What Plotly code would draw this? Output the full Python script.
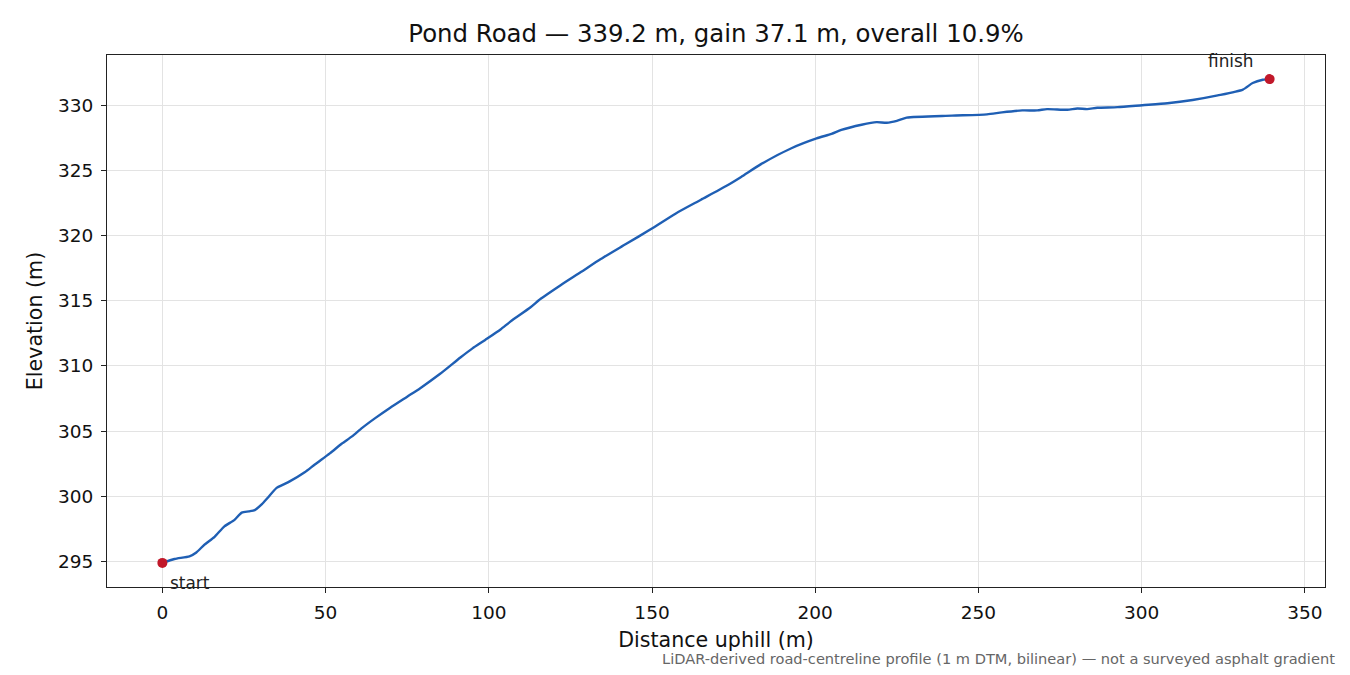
import plotly.graph_objects as go

# distance along the road (m) and elevation (m)
distance = [0, 3.7, 8.3, 10.4, 12.9, 16, 19, 22.1, 24.3, 26.5, 28.3, 30.5, 32.3, 35, 37, 39,
            43.6, 46.7, 51.3, 55, 58.1, 61.2, 65.2, 69.8, 75, 79, 85.1, 91.3, 95, 98.9,
            103.6, 106.6, 112.8, 115.9, 122, 128.2, 134.3, 142, 149.7, 157.3, 165, 172.7,
            177.3, 183.5, 192.7, 200.4, 205, 208, 214.2, 218.8, 221.9, 225, 228, 241.9,
            252.6, 257.2, 263.4, 268, 271, 277.2, 280.3, 283.3, 286.4, 292.6, 300.2,
            307.9, 315.6, 323.3, 331, 334, 337.1, 339.2]
elevation = [294.9, 295.2, 295.4, 295.7, 296.3, 296.9, 297.7, 298.2, 298.75, 298.85, 298.95,
             299.4, 299.9, 300.65, 300.9, 301.15, 301.85, 302.45, 303.3, 304.05, 304.6,
             305.25, 306.0, 306.8, 307.65, 308.3, 309.4, 310.65, 311.35, 312.0, 312.8,
             313.4, 314.5, 315.15, 316.2, 317.2, 318.2, 319.35, 320.5, 321.7, 322.75,
             323.8, 324.5, 325.5, 326.7, 327.45, 327.8, 328.1, 328.5, 328.7, 328.65, 328.8,
             329.05, 329.2, 329.3, 329.45, 329.6, 329.6, 329.7, 329.65, 329.75, 329.7,
             329.8, 329.85, 330.0, 330.15, 330.4, 330.75, 331.2, 331.7, 331.95, 332.0]

title = "Pond Road — 339.2 m, gain 37.1 m, overall 10.9%"
note = "LiDAR-derived road-centreline profile (1 m DTM, bilinear) — not a surveyed asphalt gradient"
FONT = "DejaVu Sans"

fig = go.Figure()
fig.add_trace(go.Scatter(x=distance, y=elevation, mode="lines",
                         line=dict(color="#1f5fb4", width=2.4, shape="spline", smoothing=0.6),
                         hoverinfo="x+y", showlegend=False))
fig.add_trace(go.Scatter(x=[distance[0], distance[-1]], y=[elevation[0], elevation[-1]],
                         mode="markers", marker=dict(color="#c1182a", size=10),
                         showlegend=False))

fig.add_annotation(x=distance[0], y=elevation[0], text="start", showarrow=False,
                   xanchor="left", yanchor="middle", xshift=6, yshift=-20,
                   font=dict(family=FONT, size=16.9, color="#222"))
fig.add_annotation(x=distance[-1], y=elevation[-1], text="finish", showarrow=False,
                   xanchor="center", yanchor="middle", xshift=-39, yshift=18,
                   font=dict(family=FONT, size=16.9, color="#222"))
fig.add_annotation(x=1, y=0, xref="paper", yref="paper", text=note, showarrow=False,
                   xanchor="right", yanchor="middle", xshift=12, yshift=-71,
                   font=dict(family=FONT, size=14.6, color="#666"))

axis = dict(showline=True, linecolor="#222", linewidth=1.2, mirror=True,
            ticks="outside", ticklen=5, tickcolor="#222", ticklabelstandoff=4,
            showgrid=True, gridcolor="#e3e3e3", gridwidth=1, zeroline=False,
            tickfont=dict(family=FONT, size=18.5, color="#111"))

# page body has an 8px margin, so the figure is a bit smaller than the window
fig.update_layout(
    width=1334, height=659,
    margin=dict(l=99, r=17, t=47, b=80),
    paper_bgcolor="white", plot_bgcolor="white",
    font=dict(family=FONT, color="#111"),
    title=dict(text=title, x=0.5, xref="paper", xanchor="center",
               y=1, yref="container", yanchor="top", pad=dict(t=17),
               font=dict(family=FONT, size=24.4)),
    xaxis=dict(axis, range=[-16.96, 356.16], dtick=50,
               title=dict(text="Distance uphill (m)", font=dict(family=FONT, size=20.6), standoff=10)),
    yaxis=dict(axis, range=[293.05, 333.85], dtick=5,
               title=dict(text="Elevation (m)", font=dict(family=FONT, size=20.6), standoff=9)),
)

fig.write_html("out.html")
